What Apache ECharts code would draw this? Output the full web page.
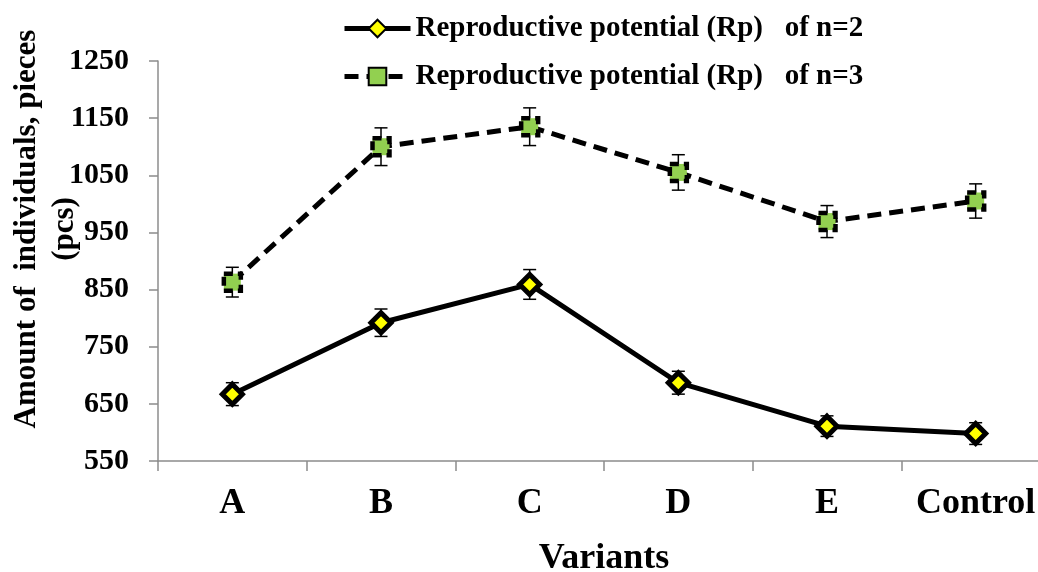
<!DOCTYPE html>
<html>
<head>
<meta charset="utf-8">
<script src="https://cdn.jsdelivr.net/npm/echarts@6/dist/echarts.min.js"></script>
<style>html,body{margin:0;padding:0;background:#fff;}#c{width:1038px;height:572px;}</style>
</head>
<body>
<div id="c"></div>
<script>
const categories = ['A', 'B', 'C', 'D', 'E', 'Control'];
const rpN2 = [667, 792, 859, 687, 611, 598];
const rpN3 = [863, 1100, 1135, 1055, 969, 1005];
const errN2 = [20, 24, 26, 20, 18, 19];
const errN3 = [26, 33, 33, 31, 28, 30];
const yTicks = { min: 550, max: 1250, interval: 100 };
const nameN2 = 'Reproductive potential (Rp)   of n=2';
const nameN3 = 'Reproductive potential (Rp)   of n=3';

const FONT = '"Liberation Serif", "Times New Roman", serif';

function errData(vals, errs) {
  return vals.map((v, i) => [i, v - errs[i], v + errs[i]]);
}
function errRender(params, api) {
  const x = api.value(0);
  const lo = api.coord([x, api.value(1)]);
  const hi = api.coord([x, api.value(2)]);
  const cap = 6.5;
  const st = { stroke: '#000', lineWidth: 1.5 };
  return {
    type: 'group',
    children: [
      { type: 'line', shape: { x1: lo[0], y1: lo[1], x2: hi[0], y2: hi[1] }, style: st },
      { type: 'line', shape: { x1: lo[0] - cap, y1: lo[1], x2: lo[0] + cap, y2: lo[1] }, style: st },
      { type: 'line', shape: { x1: hi[0] - cap, y1: hi[1], x2: hi[0] + cap, y2: hi[1] }, style: st }
    ]
  };
}

const chart = echarts.init(document.getElementById('c'), null, { renderer: 'canvas' });
chart.setOption({
  animation: false,
  backgroundColor: '#fff',
  textStyle: { fontFamily: FONT },
  grid: { left: 158, top: 61, bottom: 111, right: -12, containLabel: false, outerBoundsMode: 'none' },
  legend: {
    orient: 'vertical',
    left: 337,
    top: 9,
    itemWidth: 66,
    itemHeight: 22,
    itemGap: 19,
    lineStyle: { width: 5 },
    textStyle: { fontFamily: FONT, fontWeight: 'bold', fontSize: 29, color: '#000' },
    data: [nameN2, nameN3]
  },
  xAxis: {
    type: 'category',
    data: categories,
    boundaryGap: true,
    name: 'Variants',
    nameLocation: 'middle',
    nameGap: 80,
    nameTextStyle: { fontFamily: FONT, fontWeight: 'bold', fontSize: 36, color: '#000' },
    axisLine: { lineStyle: { color: '#8c8c8c', width: 1.5 } },
    axisTick: { show: true, alignWithLabel: false, length: 10, lineStyle: { color: '#8c8c8c', width: 1.5 } },
    axisLabel: { fontFamily: FONT, fontWeight: 'bold', fontSize: 36, color: '#000', margin: 25, interval: 0 },
    splitLine: { show: false }
  },
  yAxis: {
    type: 'value',
    min: yTicks.min,
    max: yTicks.max,
    interval: yTicks.interval,
    axisLine: { show: true, lineStyle: { color: '#8c8c8c', width: 1.5 } },
    axisTick: { show: true, length: 9, lineStyle: { color: '#8c8c8c', width: 1.5 } },
    axisLabel: { fontFamily: FONT, fontWeight: 'bold', fontSize: 30, color: '#000', margin: 29, formatter: v => String(v) },
    splitLine: { show: false }
  },
  graphic: [{
    type: 'text',
    x: 46,
    y: 229,
    rotation: Math.PI / 2,
    style: {
      text: 'Amount of  individuals, pieces\n(pcs)',
      font: 'bold 31px ' + FONT,
      fill: '#000',
      align: 'center',
      verticalAlign: 'middle',
      lineHeight: 38
    }
  }],
  series: [
    {
      type: 'custom',
      name: 'errN3',
      renderItem: errRender,
      data: errData(rpN3, errN3),
      encode: { x: 0, y: [1, 2] },
      z: 1,
      silent: true
    },
    {
      type: 'custom',
      name: 'errN2',
      renderItem: errRender,
      data: errData(rpN2, errN2),
      encode: { x: 0, y: [1, 2] },
      z: 1,
      silent: true
    },
    {
      type: 'line',
      name: nameN2,
      data: rpN2,
      z: 3,
      symbol: 'diamond',
      symbolSize: [20, 20],
      lineStyle: { color: '#000', width: 5, type: 'solid' },
      itemStyle: { color: '#ffff00', borderColor: '#000', borderWidth: 5 }
    },
    {
      type: 'line',
      name: nameN3,
      data: rpN3,
      z: 3,
      symbol: 'rect',
      symbolSize: 17,
      lineStyle: { color: '#000', width: 5, type: [14, 8] },
      itemStyle: { color: '#92d050', borderColor: '#000', borderWidth: 4.5, borderType: [9, 5] }
    }
  ]
});
</script>
</body>
</html>
